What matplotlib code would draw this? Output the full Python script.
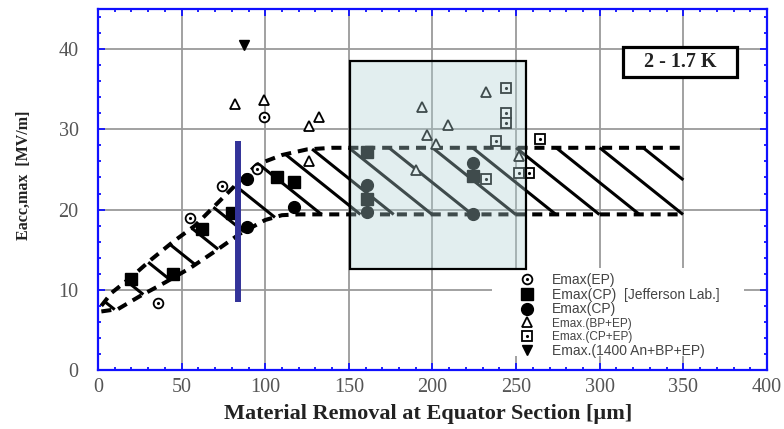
import numpy as np
import matplotlib.pyplot as plt
from matplotlib.patches import Rectangle
from matplotlib.lines import Line2D

# band envelope (upper / lower dashed curves)
upper_x = [2, 8, 20, 32, 45, 58, 70, 82, 95, 110, 125, 140, 350]
upper_y = [8.0, 9.6, 11.6, 13.8, 16.0, 18.0, 20.5, 23.0, 25.6, 26.8, 27.5, 27.7, 27.7]
lower_x = [2, 12, 25, 40, 55, 70, 85, 100, 110, 120, 350]
lower_y = [7.3, 7.6, 9.2, 10.9, 12.7, 14.8, 17.0, 18.7, 19.3, 19.4, 19.4]
hatch_x = [4, 17, 30, 43, 56, 69, 82, 96, 112, 128, 150, 174, 200, 224, 250, 274, 300, 326]

# measured points
ep_x = [36, 55, 74, 95, 99]
ep_y = [8.4, 18.9, 22.9, 25.0, 31.5]
jlab_x = [20, 45, 62, 80, 107, 117, 161, 161, 224]
jlab_y = [11.4, 12.0, 17.6, 19.6, 24.0, 23.4, 27.2, 21.3, 24.2]
cp_x = [89, 89, 117, 161, 161, 224, 224]
cp_y = [23.8, 17.8, 20.3, 23.1, 19.7, 25.8, 19.4]
bpep_x = [82, 99, 126, 126, 132, 190, 194, 197, 202, 209, 232, 252]
bpep_y = [33.2, 33.6, 30.4, 26.0, 31.5, 24.9, 32.8, 29.3, 28.2, 30.6, 34.6, 26.7]
cpep_x = [238, 244, 244, 244, 232, 252, 258, 264]
cpep_y = [28.6, 35.1, 32.0, 30.8, 23.8, 24.6, 24.6, 28.8]
anneal_x = [87]
anneal_y = [40.5]

fig = plt.figure(figsize=(7.84, 4.29), dpi=100)
ax = fig.add_axes([0.125, 0.1375, 0.8533, 0.8415])

ax.set_xlim(0, 400)
ax.set_ylim(0, 45)
ax.set_xticks(np.arange(0, 401, 50))
ax.set_xticks(np.arange(0, 401, 10), minor=True)
ax.set_yticks(np.arange(0, 41, 10))
ax.set_yticks(np.arange(0, 45.1, 2), minor=True)
ax.set_axisbelow(True)
ax.grid(which='major', color='#9a9a9a', lw=1.3)

for s in ax.spines.values():
    s.set_color('#1010ff')
    s.set_linewidth(1.6)
ax.tick_params(which='both', direction='in', top=True, right=True, color='#1010ff', width=1.3)
ax.tick_params(which='major', length=5)
ax.tick_params(which='minor', length=2.5)
ax.tick_params(axis='x', pad=6, labelsize=14.5, labelcolor='#555555')
ax.tick_params(axis='y', pad=14, labelsize=14.5, labelcolor='#555555')
for lab in ax.get_xticklabels() + ax.get_yticklabels():
    lab.set_fontfamily('Liberation Serif')

ax.set_xlabel('Material Removal at Equator Section [\u00b5m]', fontsize=16, fontweight='bold',
              family='Liberation Serif', color='#222222')
ax.xaxis.set_label_coords(0.493, -0.095)
ax.set_ylabel('Eacc,max  [MV/m]', fontsize=11.5, fontweight='bold',
              family='Liberation Serif', color='#222222')
ax.yaxis.set_label_coords(-0.099, 0.54)

# hatched band
dash = (0, (2.5, 1.7))
ax.plot(upper_x, upper_y, color='black', lw=2.9, linestyle=dash, zorder=2)
ax.plot(lower_x, lower_y, color='black', lw=2.9, linestyle=dash, zorder=2)
slope = -0.167
xs = np.linspace(0, 350, 3501)
for x0 in hatch_x:
    y0 = np.interp(x0, upper_x, upper_y)
    t = xs[xs >= x0]
    line = y0 + slope * (t - x0)
    hit = np.nonzero(line <= np.interp(t, lower_x, lower_y))[0]
    x1 = t[hit[0]] if len(hit) else 350
    ax.plot([x0, x1], [y0, y0 + slope * (x1 - x0)], color='black', lw=2.2,
            solid_capstyle='butt', zorder=2)

# markers
ax.plot(ep_x, ep_y, 'o', ms=7, mfc='white', mec='black', mew=1.3, zorder=3)
ax.plot(ep_x, ep_y, '.', ms=2.5, color='black', zorder=3)
ax.plot(jlab_x, jlab_y, 's', ms=8, color='black', zorder=3)
ax.plot(cp_x, cp_y, 'o', ms=8.5, color='black', zorder=3)
ax.plot(bpep_x, bpep_y, '^', ms=7, mfc='white', mec='black', mew=1.3, zorder=3)
ax.plot(cpep_x, cpep_y, 's', ms=7.5, mfc='white', mec='black', mew=1.3, zorder=3)
ax.plot(cpep_x, cpep_y, '.', ms=2.5, color='black', zorder=3)
ax.plot(anneal_x, anneal_y, 'v', ms=7, color='black', zorder=3)

# blue marker line
ax.plot([83.5, 83.5], [8.5, 28.5], color='#333399', lw=4.3, solid_capstyle='butt', zorder=4)

# shaded window
ax.add_patch(Rectangle((150.5, 12.6), 105.3, 25.9, facecolor=(0.69, 0.82, 0.83),
                       alpha=0.36, edgecolor='none', zorder=5))
ax.add_patch(Rectangle((150.5, 12.6), 105.3, 25.9, facecolor='none',
                       edgecolor='black', lw=1.6, zorder=5))

# temperature box
ax.add_patch(Rectangle((314, 36.5), 68, 3.75, facecolor='white', edgecolor='black',
                       lw=2.3, zorder=6))
ax.text(348, 38.4, '2 - 1.7 K', ha='center', va='center', fontsize=14.5,
        fontweight='bold', family='Liberation Serif', color='#222222', zorder=7)

# legend
ax.add_patch(Rectangle((0.589, 0.04), 0.965 - 0.589, 0.2825 - 0.04, transform=ax.transAxes,
                       facecolor='white', edgecolor='none', zorder=1))
h_ep = (Line2D([], [], marker='o', ls='', ms=7, mfc='white', mec='black', mew=1.3),
        Line2D([], [], marker='.', ls='', ms=2.5, color='black'))
h_jl = Line2D([], [], marker='s', ls='', ms=8, color='black')
h_cp = Line2D([], [], marker='o', ls='', ms=8.5, color='black')
h_bp = Line2D([], [], marker='^', ls='', ms=7, mfc='white', mec='black', mew=1.3)
h_ce = (Line2D([], [], marker='s', ls='', ms=7.5, mfc='white', mec='black', mew=1.3),
        Line2D([], [], marker='.', ls='', ms=2.5, color='black'))
h_an = Line2D([], [], marker='v', ls='', ms=7, color='black')
labels = ['Emax(EP)', 'Emax(CP)  [Jefferson Lab.]', 'Emax(CP)', 'Emax.(BP+EP)',
          'Emax.(CP+EP)', 'Emax.(1400 An+BP+EP)']
label_sizes = [10, 10, 10, 8.5, 8.5, 10]
leg = ax.legend([h_ep, h_jl, h_cp, h_bp, h_ce, h_an], labels, loc='center left',
                bbox_to_anchor=(0.629, 0.151), frameon=False, borderpad=0, borderaxespad=0,
                handlelength=1.2, handletextpad=1.2, labelspacing=0.06,
                prop={'family': 'Liberation Sans', 'size': 10})
for t, fs in zip(leg.get_texts(), label_sizes):
    t.set_color('#444444')
    t.set_fontsize(fs)
leg.set_zorder(6)

fig.savefig('out.png', dpi=100)
